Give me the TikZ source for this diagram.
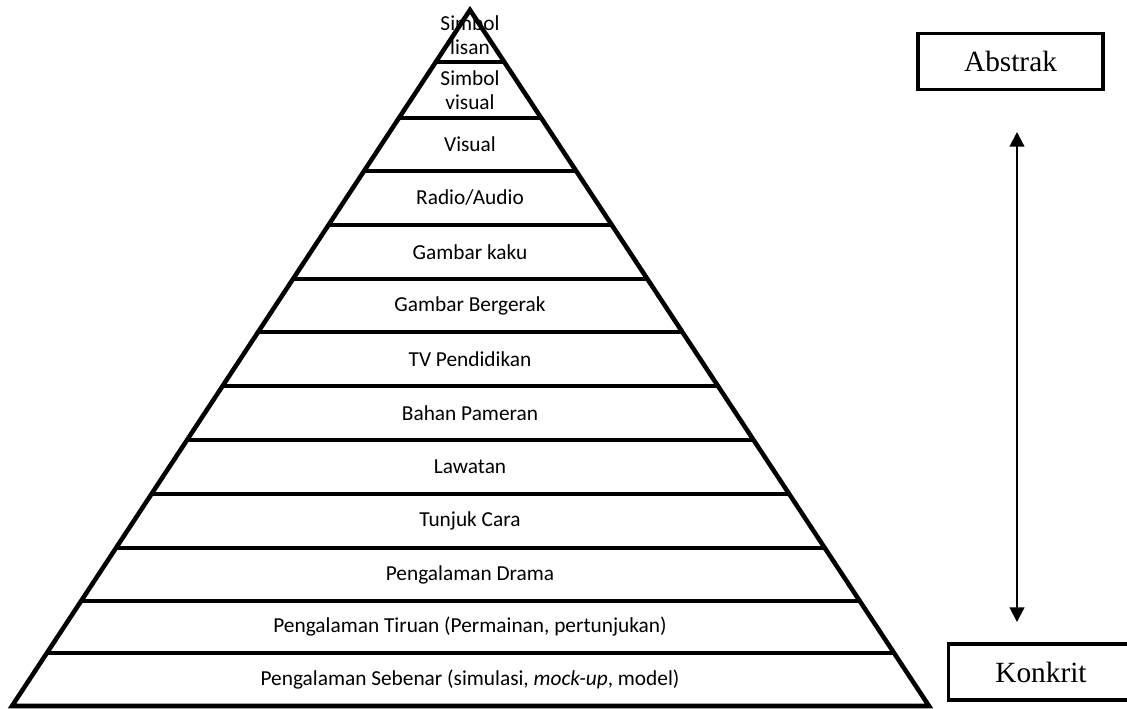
\documentclass[tikz,border=0pt]{standalone}
\usepackage{fontspec}
\setmainfont{Liberation Serif}
\newfontfamily\calibri{Carlito}
\usetikzlibrary{calc,arrows.meta}
\begin{document}
\begin{tikzpicture}[x=0.75pt,y=-0.75pt]
	\tikzstyle{level} = [font=\calibri\fontsize{16}{17.5}\selectfont,align=center,inner sep=0pt]
	\tikzstyle{endbox} = [rectangle,draw,line width=2.6pt,minimum width=139pt,minimum height=42pt,font=\fontsize{22}{24}\selectfont]
	\useasboundingbox (0,0) rectangle (1127,708);
	% pyramid
	\coordinate (apex) at (470,10);
	\coordinate (bl) at (12,706);
	\coordinate (br) at (929,706);
	\draw[line width=3.4pt,line join=miter] (bl) -- (apex) -- (br) -- cycle;
	\foreach \y in {62,118,171,225,279,332,386,440,494,548,601,653}
		\draw[line width=3.4pt] ($(apex)!{(\y-10)/696}!(bl)$) -- ($(apex)!{(\y-10)/696}!(br)$);
	\node[level](lisan)at(470,35){Simbol\\lisan};
	\node[level](svisual)at(470,90){Simbol\\visual};
	\node[level](visual)at(470,144.5){Visual};
	\node[level](radio)at(470,198){Radio/Audio};
	\node[level](kaku)at(470,252){Gambar kaku};
	\node[level](bergerak)at(470,305.5){Gambar Bergerak};
	\node[level](tv)at(470,359){TV Pendidikan};
	\node[level](pameran)at(470,413){Bahan Pameran};
	\node[level](lawatan)at(470,467){Lawatan};
	\node[level](tunjuk)at(470,521){Tunjuk Cara};
	\node[level](drama)at(470,574.5){Pengalaman Drama};
	\node[level](tiruan)at(470,627){Pengalaman Tiruan (Permainan, pertunjukan)};
	\node[level](sebenar)at(470,680){Pengalaman Sebenar (simulasi, \textit{mock-up}, model)};
	% scale on the right
	\node[endbox](abstrak)at(1010.5,61.5){Abstrak};
	\node[endbox](konkrit)at(1041,672){Konkrit};
	\coordinate (top) at (1017,132);
	\coordinate (bottom) at (1017,622);
	\path[{Triangle[length=11pt,width=11pt]}-{Triangle[length=11pt,width=11pt]},line width=1.6pt] (top) edge (bottom);
\end{tikzpicture}
\end{document}
